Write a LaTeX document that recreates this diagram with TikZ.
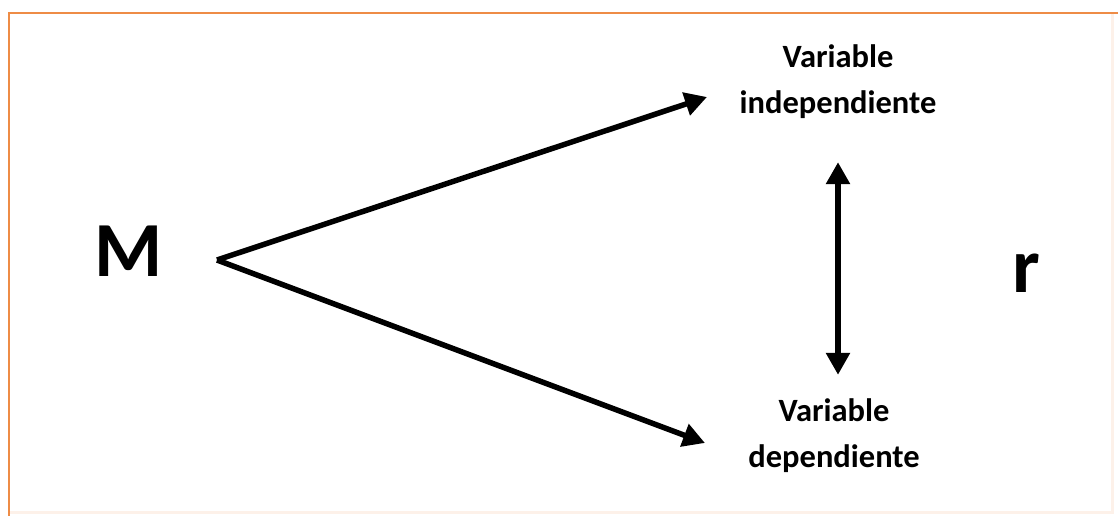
\documentclass[tikz,border=0pt]{standalone}
\usepackage{fontspec}
\setmainfont{Carlito}
\usetikzlibrary{arrows.meta,positioning}
\definecolor{frameorange}{RGB}{238,140,70}

\begin{document}
\begin{tikzpicture}[x=1pt,y=-1pt,inner sep=0pt,
  lbl/.style={font=\fontsize{32.5}{46}\selectfont\bfseries,align=center},
  big/.style={font=\fontsize{78}{80}\selectfont\bfseries},
  arr/.style={line width=5.5pt,-{Triangle[length=22pt,width=23pt]}},
  dblarr/.style={line width=5.5pt,{Triangle[length=22pt,width=23pt]}-{Triangle[length=22pt,width=23pt]}}]
\useasboundingbox (0,0) rectangle (1118,516);
\fill[white] (0,0) rectangle (1118,516);

% frame
\draw[frameorange!12,line width=3pt] (1112,13) -- (1112,512) -- (9,512);
\draw[frameorange,line width=2.5pt] (9,516) -- (9,13) -- (1118,13);

\node (M) [big,anchor=base] at (129,276) {M};
\node (r) [big,anchor=base] at (1026,292) {r};
\node (indep) [lbl] at (838,82) {Variable\\independiente};
\node (dep) [lbl] at (834,436) {Variable\\dependiente};

\coordinate (v) at (217,260);
\coordinate (tipI) at (707,97);
\coordinate (tipD) at (705,443);

\draw[arr] (v) -- (tipI);
\draw[arr] (v) -- (tipD);
\draw[dblarr] ([yshift=-43pt]indep.south -| 838,0) -- ([yshift=24pt]dep.north -| 838,0);
\end{tikzpicture}
\end{document}
